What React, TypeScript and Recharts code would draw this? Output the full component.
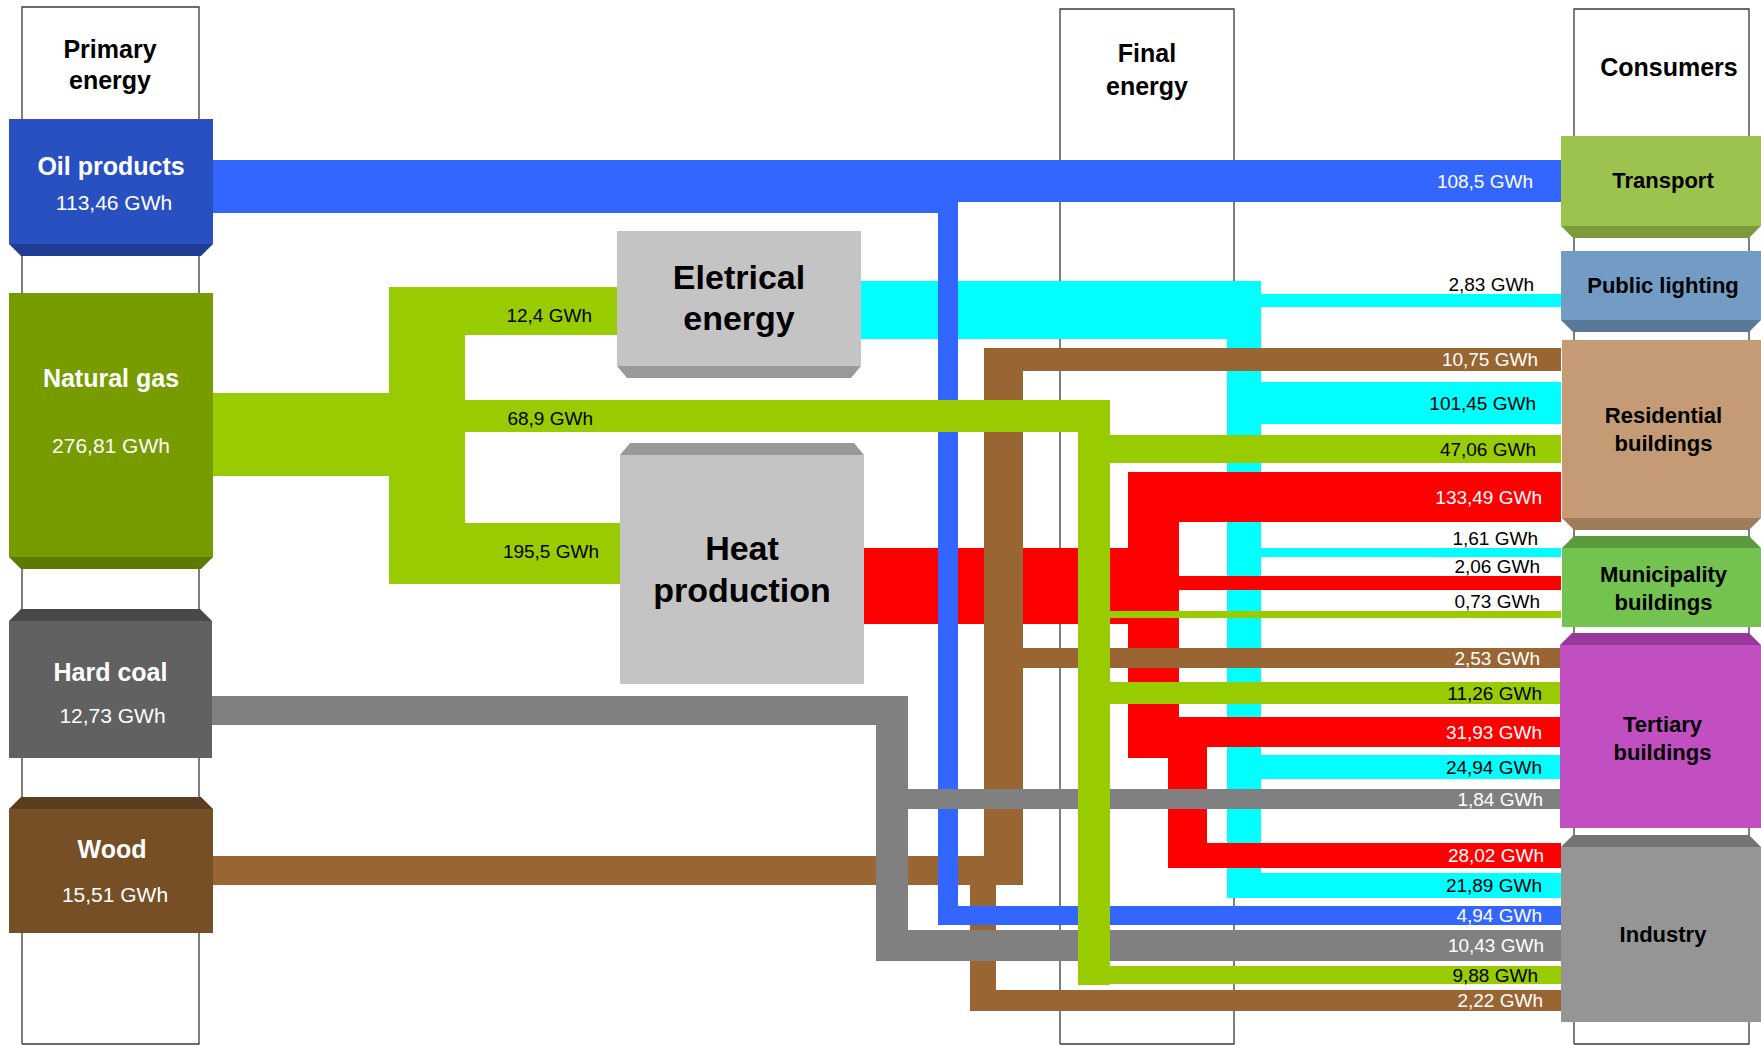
import React from 'react';
import { ComposedChart, XAxis, YAxis, Line, Scatter } from 'recharts';

const W = 1761;
const H = 1045;
const FONT = '"Liberation Sans", Arial, Helvetica, sans-serif';

// ---------------- data ----------------
const columnTitles = [['Primary', 'energy'], ['Final', 'energy'], ['Consumers']];
const primaryNames = ['Oil products', 'Natural gas', 'Hard coal', 'Wood'];
const primaryValues = [113.46, 276.81, 12.73, 15.51];
const conversionNames = [['Eletrical', 'energy'], ['Heat', 'production']];
const gasSplitValues = [12.4, 68.9, 195.5];
const consumerNames = [
  ['Transport'],
  ['Public lighting'],
  ['Residential', 'buildings'],
  ['Municipality', 'buildings'],
  ['Tertiary', 'buildings'],
  ['Industry'],
];
const deliveryCarrier = ['oil', 'elec', 'wood', 'elec', 'gas', 'heat', 'elec', 'heat', 'gas', 'wood', 'gas', 'heat', 'elec', 'coal', 'heat', 'elec', 'oil', 'coal', 'gas', 'wood'];
const deliveryConsumer = [0, 1, 2, 2, 2, 2, 3, 3, 3, 4, 4, 4, 4, 4, 5, 5, 5, 5, 5, 5];
const deliveryValues = [108.5, 2.83, 10.75, 101.45, 47.06, 133.49, 1.61, 2.06, 0.73, 2.53, 11.26, 31.93, 24.94, 1.84, 28.02, 21.89, 4.94, 10.43, 9.88, 2.22];

// ---------------- layout ----------------
const carrierColor: Record<string, string> = {
  oil: '#3366FF', gas: '#99CC00', elec: '#00FFFF', heat: '#FF0000', coal: '#808080', wood: '#996633',
};
const darkCarriers = ['oil', 'heat', 'coal', 'wood'];
const drawOrder = ['elec', 'heat', 'wood', 'oil', 'coal', 'gas'];

const columnFrames = [
  { x1: 22, x2: 199, top: 7, titleX: 110, titleY: [58, 89] },
  { x1: 1060, x2: 1234, top: 9, titleX: 1147, titleY: [62, 95] },
  { x1: 1574, x2: 1749, top: 9, titleX: 1669, titleY: [76] },
];
const FRAME_BOTTOM = 1044;

const CONSUMER_X = 1561;
const deliveryLabelRight = [1533, 1534, 1538, 1536, 1536, 1542, 1538, 1540, 1540, 1540, 1542, 1542, 1542, 1543, 1544, 1542, 1542, 1544, 1538, 1543];
const deliveryTop = [160, 294, 348, 382, 435, 472, 548, 576, 611, 648, 682, 717, 755, 789, 843, 873, 906, 930, 966, 990];
const deliveryBottom = [202, 307, 371, 424, 463, 522, 557, 590, 618, 668, 704, 747, 779, 809, 868, 898, 925, 961, 984, 1011];
const deliveryStartX = [213, 1227, 984, 1227, 1078, 1128, 1227, 1128, 1078, 984, 1078, 1128, 1227, 876, 1168, 1227, 938, 876, 1078, 970];

const trunkRoutes: { carrier: string; width: number; points: number[][] }[] = [
  { carrier: 'elec', width: 58, points: [[861, 310], [1261, 310]] },
  { carrier: 'elec', width: 34, points: [[1244, 281], [1244, 898]] },
  { carrier: 'heat', width: 76, points: [[864, 586], [1179, 586]] },
  { carrier: 'heat', width: 51, points: [[1153.5, 472], [1153.5, 758]] },
  { carrier: 'heat', width: 39, points: [[1187.5, 717], [1187.5, 868]] },
  { carrier: 'wood', width: 29, points: [[213, 870.5], [1023, 870.5]] },
  { carrier: 'wood', width: 39, points: [[1003.5, 348], [1003.5, 885]] },
  { carrier: 'wood', width: 26, points: [[983, 856], [983, 1011]] },
  { carrier: 'oil', width: 53, points: [[213, 186.5], [958, 186.5]] },
  { carrier: 'oil', width: 20, points: [[948, 202], [948, 925]] },
  { carrier: 'coal', width: 29, points: [[212, 710.5], [908, 710.5]] },
  { carrier: 'coal', width: 32, points: [[892, 696], [892, 961]] },
  { carrier: 'gas', width: 83, points: [[213, 434.5], [389, 434.5]] },
  { carrier: 'gas', width: 76, points: [[427, 287], [427, 584]] },
  { carrier: 'gas', width: 48, points: [[465, 311], [617, 311]] },
  { carrier: 'gas', width: 32, points: [[465, 416], [1110, 416]] },
  { carrier: 'gas', width: 61, points: [[465, 553.5], [620, 553.5]] },
  { carrier: 'gas', width: 32, points: [[1094, 400], [1094, 985]] },
];
const gasSplitLabelPos = [[592, 322], [593, 425], [599, 558]];

type Box = {
  x1: number; x2: number; y1: number; y2: number; bevel: 'top' | 'bottom'; inset: number;
  fill: string; dark: string; textColor: string; dx: number[]; dy: number[]; size: number[]; weight: string[];
};
const primaryBoxes: Box[] = [
  { x1: 9, x2: 213, y1: 119, y2: 244, bevel: 'bottom', inset: 12, fill: '#2950C1', dark: '#1F3D95', textColor: '#FFFFFF', dx: [0, 3], dy: [-6.5, 28.5], size: [25, 21], weight: ['bold', 'normal'] },
  { x1: 9, x2: 213, y1: 293, y2: 557, bevel: 'bottom', inset: 12, fill: '#779C00', dark: '#5C7A00', textColor: '#FFFFFF', dx: [0, 0], dy: [-38, 28], size: [25, 21], weight: ['bold', 'normal'] },
  { x1: 9, x2: 212, y1: 621, y2: 758, bevel: 'top', inset: 12, fill: '#616161', dark: '#484848', textColor: '#FFFFFF', dx: [0, 2], dy: [-8.5, 33.5], size: [25, 21], weight: ['bold', 'normal'] },
  { x1: 9, x2: 213, y1: 809, y2: 933, bevel: 'top', inset: 12, fill: '#774F27', dark: '#5C3C1E', textColor: '#FFFFFF', dx: [1, 4], dy: [-13, 31], size: [25, 21], weight: ['bold', 'normal'] },
];
const conversionBoxes: Box[] = [
  { x1: 617, x2: 861, y1: 231, y2: 366, bevel: 'bottom', inset: 10, fill: '#C4C4C4', dark: '#999999', textColor: '#000000', dx: [0, 0], dy: [-9.5, 31.5], size: [34, 34], weight: ['bold', 'bold'] },
  { x1: 620, x2: 864, y1: 455, y2: 684, bevel: 'top', inset: 10, fill: '#C4C4C4', dark: '#999999', textColor: '#000000', dx: [0, 0], dy: [-9.5, 32.5], size: [34, 34], weight: ['bold', 'bold'] },
];
const consumerBoxes: Box[] = [
  { x1: 1561, x2: 1761, y1: 136, y2: 226, bevel: 'bottom', inset: 12, fill: '#9DC34F', dark: '#7B9A3C', textColor: '#000000', dx: [2], dy: [7], size: [22], weight: ['bold'] },
  { x1: 1561, x2: 1761, y1: 251, y2: 320, bevel: 'bottom', inset: 12, fill: '#739CC4', dark: '#5A7898', textColor: '#000000', dx: [2], dy: [7.5], size: [22], weight: ['bold'] },
  { x1: 1562, x2: 1761, y1: 340, y2: 518, bevel: 'bottom', inset: 12, fill: '#C49B74', dark: '#9E7B5B', textColor: '#000000', dx: [2, 2], dy: [-6, 22], size: [22, 22], weight: ['bold', 'bold'] },
  { x1: 1562, x2: 1761, y1: 548, y2: 627, bevel: 'top', inset: 12, fill: '#74C350', dark: '#5C9A3E', textColor: '#000000', dx: [2, 2], dy: [-5.5, 22.5], size: [22, 22], weight: ['bold', 'bold'] },
  { x1: 1560, x2: 1761, y1: 645, y2: 828, bevel: 'top', inset: 12, fill: '#C24FC1', dark: '#96399A', textColor: '#000000', dx: [2, 2], dy: [-4.5, 23.5], size: [22, 22], weight: ['bold', 'bold'] },
  { x1: 1561, x2: 1761, y1: 847, y2: 1022, bevel: 'top', inset: 12, fill: '#959595', dark: '#747474', textColor: '#000000', dx: [2], dy: [7.5], size: [22], weight: ['bold'] },
];
const BEVEL_H = 12;

// ---------------- helpers ----------------
const fmt = (v: number) => `${String(v).replace('.', ',')} GWh`;

type Series = { key: string; color: string; width: number; data: { x: number; y: number }[] };
const series: Series[] = [];
columnFrames.forEach((f, i) => {
  series.push({
    key: `frame-${i}`,
    color: '#3A3A3A',
    width: 1.3,
    data: [
      { x: f.x1, y: FRAME_BOTTOM }, { x: f.x1, y: f.top }, { x: f.x2, y: f.top }, { x: f.x2, y: FRAME_BOTTOM }, { x: f.x1, y: FRAME_BOTTOM },
    ],
  });
});
drawOrder.forEach((c) => {
  trunkRoutes.forEach((r, i) => {
    if (r.carrier !== c) return;
    series.push({ key: `trunk-${i}`, color: carrierColor[c], width: r.width, data: r.points.map(([x, y]) => ({ x, y })) });
  });
  deliveryCarrier.forEach((dc, i) => {
    if (dc !== c) return;
    const mid = (deliveryTop[i] + deliveryBottom[i]) / 2;
    series.push({
      key: `delivery-${i}`,
      color: carrierColor[c],
      width: deliveryBottom[i] - deliveryTop[i],
      data: [{ x: deliveryStartX[i], y: mid }, { x: CONSUMER_X, y: mid }],
    });
  });
});

type NodeDatum = Box & { x: number; y: number; lines: string[] };
const nodeData: NodeDatum[] = [
  ...primaryBoxes.map((b, i) => ({ ...b, x: (b.x1 + b.x2) / 2, y: (b.y1 + b.y2) / 2, lines: [primaryNames[i], fmt(primaryValues[i])] })),
  ...conversionBoxes.map((b, i) => ({ ...b, x: (b.x1 + b.x2) / 2, y: (b.y1 + b.y2) / 2, lines: conversionNames[i] })),
  ...consumerBoxes.map((b, i) => ({ ...b, x: (b.x1 + b.x2) / 2, y: (b.y1 + b.y2) / 2, lines: consumerNames[i] })),
];

type TextDatum = { x: number; y: number; text: string; size: number; weight: string; fill: string; anchor: string };
const textData: TextDatum[] = [];
columnTitles.forEach((t, i) => {
  t.forEach((line, j) => {
    textData.push({ x: columnFrames[i].titleX, y: columnFrames[i].titleY[j], text: line, size: 25, weight: 'bold', fill: '#000000', anchor: 'middle' });
  });
});
gasSplitValues.forEach((v, i) => {
  textData.push({ x: gasSplitLabelPos[i][0], y: gasSplitLabelPos[i][1], text: fmt(v), size: 19, weight: 'normal', fill: '#000000', anchor: 'end' });
});
deliveryValues.forEach((v, i) => {
  const thick = deliveryBottom[i] - deliveryTop[i];
  const inside = thick >= 15;
  const y = inside ? (deliveryTop[i] + deliveryBottom[i]) / 2 + 6.5 : deliveryTop[i] - 3;
  const fill = inside && darkCarriers.includes(deliveryCarrier[i]) ? '#FFFFFF' : '#000000';
  textData.push({ x: deliveryLabelRight[i], y, text: fmt(v), size: 19, weight: 'normal', fill, anchor: 'end' });
});

const NodeShape = (props: any) => {
  const { cx, cy, payload } = props;
  const p = payload as NodeDatum;
  const w = p.x2 - p.x1;
  const h = p.y2 - p.y1;
  const left = cx - w / 2;
  const right = cx + w / 2;
  const top = cy - h / 2;
  const bottom = cy + h / 2;
  const bevelPts =
    p.bevel === 'bottom'
      ? `${left},${bottom} ${right},${bottom} ${right - p.inset},${bottom + BEVEL_H} ${left + p.inset},${bottom + BEVEL_H}`
      : `${left + p.inset},${top - BEVEL_H} ${right - p.inset},${top - BEVEL_H} ${right},${top} ${left},${top}`;
  return (
    <g>
      <rect x={left} y={top} width={w} height={h} fill={p.fill} />
      <polygon points={bevelPts} fill={p.dark} />
      {p.lines.map((line, j) => (
        <text
          key={j}
          x={cx + p.dx[j]}
          y={cy + p.dy[j]}
          textAnchor="middle"
          fontFamily={FONT}
          fontSize={p.size[j]}
          fontWeight={p.weight[j]}
          fill={p.textColor}
        >
          {line}
        </text>
      ))}
    </g>
  );
};

const TextShape = (props: any) => {
  const { cx, cy, payload } = props;
  const t = payload as TextDatum;
  return (
    <text x={cx} y={cy} textAnchor={t.anchor as any} fontFamily={FONT} fontSize={t.size} fontWeight={t.weight} fill={t.fill}>
      {t.text}
    </text>
  );
};

export default function App() {
  return (
    <div style={{ position: 'absolute', left: 0, top: 0, width: W, height: H, background: '#FFFFFF' }}>
      <ComposedChart width={W} height={H} margin={{ top: 0, right: 0, bottom: 0, left: 0 }}>
        <XAxis type="number" dataKey="x" domain={[0, W]} allowDataOverflow hide />
        <YAxis type="number" dataKey="y" domain={[0, H]} allowDataOverflow reversed hide />
        {series.map((s) => (
          <Line
            key={s.key}
            data={s.data}
            dataKey="y"
            type="linear"
            stroke={s.color}
            strokeWidth={s.width}
            strokeLinecap="butt"
            strokeLinejoin="miter"
            dot={false}
            activeDot={false}
            isAnimationActive={false}
            legendType="none"
          />
        ))}
        <Scatter data={nodeData} shape={NodeShape} isAnimationActive={false} legendType="none" />
        <Scatter data={textData} shape={TextShape} isAnimationActive={false} legendType="none" />
      </ComposedChart>
    </div>
  );
}
